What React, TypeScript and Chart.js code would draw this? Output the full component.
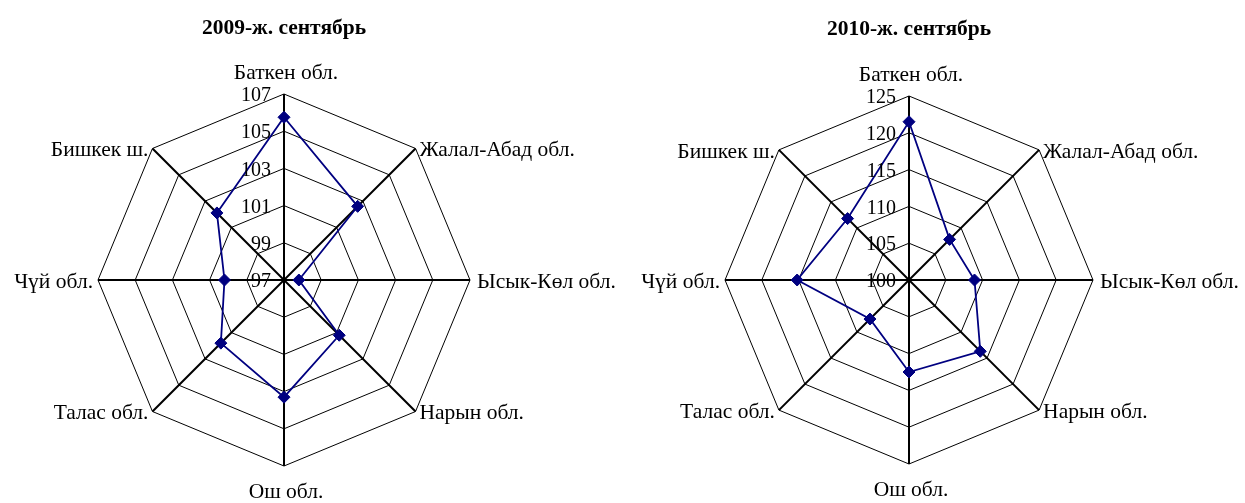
import React, { useEffect, useRef } from "react";
import { Chart, registerables } from "chart.js";

Chart.register(...registerables);

const categories = [
  "Баткен обл.",
  "Жалал-Абад обл.",
  "Ысык-Көл обл.",
  "Нарын обл.",
  "Ош обл.",
  "Талас обл.",
  "Чүй обл.",
  "Бишкек ш.",
];

const values2009 = [105.75, 102.6, 97.8, 101.2, 103.3, 101.8, 100.2, 102.1];
const values2010 = [121.5, 107.8, 108.9, 113.7, 112.5, 107.5, 115.2, 111.8];

const ticks2009 = [97, 99, 101, 103, 105, 107];
const ticks2010 = [100, 105, 110, 115, 120, 125];

const title2009 = "2009-ж. сентябрь";
const title2010 = "2010-ж. сентябрь";

const FONT = "'Liberation Serif', 'Times New Roman', serif";
const NAVY = "#000080";

const labelPlugin = (tickValues: number[]) => ({
  id: "customLabels",
  afterDraw(chart: any) {
    const scale = chart.scales.r;
    const ctx = chart.ctx;
    ctx.save();
    ctx.fillStyle = "#000";
    // tick labels along the top spoke
    ctx.font = `20px ${FONT}`;
    ctx.textAlign = "right";
    ctx.textBaseline = "middle";
    tickValues.forEach((v) => {
      const p = scale.getPointPositionForValue(0, v);
      ctx.fillText(String(v), p.x - 13, p.y + 2);
    });
    // point labels
    ctx.font = `21.5px ${FONT}`;
    const cx = scale.xCenter;
    const cy = scale.yCenter;
    const labels = chart.data.labels as string[];
    labels.forEach((lab, i) => {
      const p = scale.getPointPosition(i, scale.drawingArea);
      const dx = p.x - cx;
      const dy = p.y - cy;
      if (Math.abs(dx) < 1) {
        ctx.textAlign = "center";
        ctx.textBaseline = "middle";
        if (dy < 0) ctx.fillText(lab, p.x + 2, p.y - 21);
        else ctx.fillText(lab, p.x + 2, p.y + 26);
      } else if (dx > 0) {
        ctx.textAlign = "left";
        ctx.textBaseline = "middle";
        const off = Math.abs(dy) < 1 ? 7 : 4;
        ctx.fillText(lab, p.x + off, p.y + 2);
      } else {
        ctx.textAlign = "right";
        ctx.textBaseline = "middle";
        const off = Math.abs(dy) < 1 ? 5 : 4;
        ctx.fillText(lab, p.x - off, p.y + 2);
      }
    });
    ctx.restore();
  },
});

type RadarProps = {
  width: number;
  height: number;
  title: string;
  values: number[];
  tickValues: number[];
  padding: { left: number; right: number; top: number; bottom: number };
  titleBottom: number;
};

function RadarChart(props: RadarProps) {
  const ref = useRef<HTMLCanvasElement | null>(null);
  useEffect(() => {
    if (!ref.current) return;
    const tv = props.tickValues;
    const chart = new Chart(ref.current, {
      type: "radar",
      data: {
        labels: categories,
        datasets: [
          {
            data: props.values,
            borderColor: NAVY,
            borderWidth: 1.8,
            backgroundColor: NAVY,
            pointStyle: "rectRot",
            pointRadius: 6,
            pointHoverRadius: 6,
            pointBackgroundColor: NAVY,
            pointBorderColor: NAVY,
            pointBorderWidth: 1,
            fill: false,
            tension: 0,
          },
        ],
      },
      options: {
        animation: false,
        responsive: false,
        devicePixelRatio: 1,
        layout: { padding: props.padding },
        plugins: {
          legend: { display: false },
          tooltip: { enabled: false },
          title: {
            display: true,
            text: props.title,
            color: "#000",
            font: { family: FONT, size: 21.5, weight: "bold", lineHeight: 1.2 },
            padding: { top: 4, bottom: props.titleBottom },
          },
        },
        scales: {
          r: {
            min: tv[0],
            max: tv[tv.length - 1],
            ticks: { display: false, stepSize: tv[1] - tv[0] },
            grid: { color: "#000", lineWidth: 1 },
            angleLines: { color: "#000", lineWidth: 2 },
            pointLabels: { display: false },
          },
        },
      },
      plugins: [labelPlugin(tv)],
    } as any);
    return () => chart.destroy();
  }, []);
  return (
    <canvas
      ref={ref}
      width={props.width}
      height={props.height}
      style={{ width: props.width, height: props.height, display: "block" }}
    />
  );
}

export default function App() {
  return (
    <div
      style={{
        position: "fixed",
        left: 0,
        top: 0,
        width: 1245,
        height: 503,
        display: "flex",
        background: "#fff",
      }}
    >
      <RadarChart
        width={622}
        height={503}
        title={title2009}
        values={values2009}
        tickValues={ticks2009}
        padding={{ left: 97, right: 151, top: 12, bottom: 36 }}
        titleBottom={52}
      />
      <RadarChart
        width={623}
        height={503}
        title={title2010}
        values={values2010}
        tickValues={ticks2010}
        padding={{ left: 102, right: 151, top: 13, bottom: 38 }}
        titleBottom={53}
      />
    </div>
  );
}
